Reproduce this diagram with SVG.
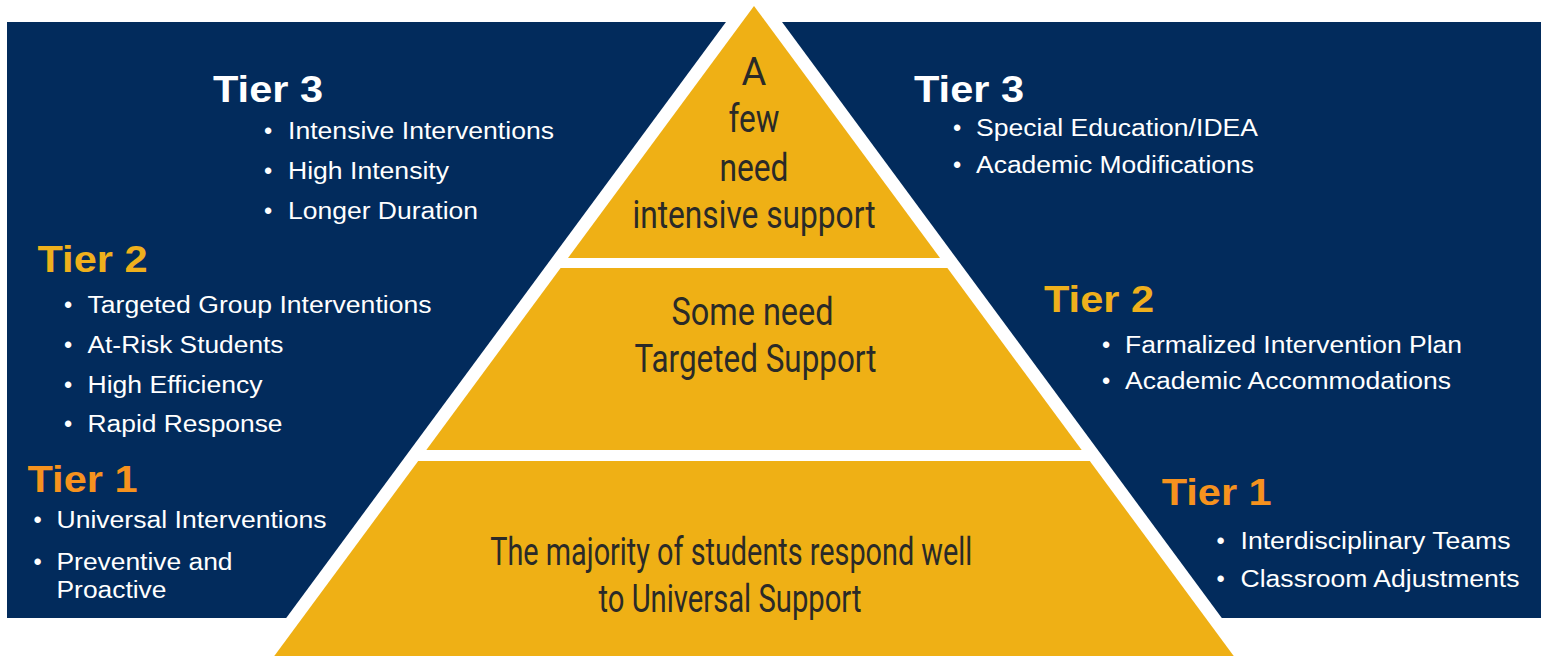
<svg xmlns="http://www.w3.org/2000/svg" width="1541" height="656" viewBox="0 0 1541 656">
  <style>
    .head { font-family: "Liberation Sans", Arial, sans-serif; font-weight: bold; font-size: 37px; }
    .t3 { fill: #ffffff; }
    .t2 { fill: #efb01c; }
    .t1 { fill: #f6921e; }
    .item { font-family: "Liberation Sans", Arial, sans-serif; font-size: 23.5px; fill: #ffffff; }
    .dot { font-family: "Liberation Sans", Arial, sans-serif; font-size: 23.5px; fill: #ffffff; text-anchor: middle; }
    .core { fill: #efb015; }
    .label { font-family: Roboto, "Liberation Sans Narrow", "Liberation Sans", sans-serif; font-weight: 400; font-size: 38px; fill: #2a2a28; text-anchor: middle; }
  </style>

  <!-- page and navy panel -->
  <rect x="0" y="0" width="1541" height="656" fill="#ffffff"/>
  <rect x="7" y="22" width="1534" height="596" fill="#022b5c"/>

  <!-- white rim around the pyramid -->
  <polygon id="pyramid-rim" points="754,-16 1282.3,700 225.7,700" fill="#ffffff"/>

  <g id="connectors"/>

  <!-- top tier of the pyramid -->
  <g id="core-tier3">
    <polygon class="core" points="754,6 940,258 568,258"/>
    <text class="label" x="754" y="85">A</text>
    <text class="label" x="754" y="131.7" textLength="51" lengthAdjust="spacingAndGlyphs">few</text>
    <text class="label" x="754" y="180.5" textLength="69" lengthAdjust="spacingAndGlyphs">need</text>
    <text class="label" x="754" y="228.3" textLength="243" lengthAdjust="spacingAndGlyphs">intensive support</text>
  </g>

  <!-- middle tier -->
  <g id="core-tier2">
    <polygon class="core" points="560.6,268 947.4,268 1081.7,450 426.3,450"/>
    <text class="label" x="752.5" y="325" textLength="162" lengthAdjust="spacingAndGlyphs">Some need</text>
    <text class="label" x="755.5" y="371.7" textLength="242" lengthAdjust="spacingAndGlyphs">Targeted Support</text>
  </g>

  <!-- base tier -->
  <g id="core-tier1">
    <polygon class="core" points="418.2,461 1089.8,461 1266.2,700 241.8,700"/>
    <text class="label" x="731.3" y="565" textLength="482" lengthAdjust="spacingAndGlyphs">The majority of students respond well</text>
    <text class="label" x="730" y="611.7" textLength="263" lengthAdjust="spacingAndGlyphs">to Universal Support</text>
  </g>

  <!-- left column -->
  <g id="left-tier3">
    <text class="head t3" x="213" y="101.7" textLength="110" lengthAdjust="spacingAndGlyphs">Tier 3</text>
    <text class="dot" x="268" y="139">•</text>
    <text class="item" x="288" y="139" textLength="266" lengthAdjust="spacingAndGlyphs">Intensive Interventions</text>
    <text class="dot" x="268" y="179">•</text>
    <text class="item" x="288" y="179" textLength="161" lengthAdjust="spacingAndGlyphs">High Intensity</text>
    <text class="dot" x="268" y="218.5">•</text>
    <text class="item" x="288" y="218.5" textLength="190" lengthAdjust="spacingAndGlyphs">Longer Duration</text>
  </g>

  <g id="left-tier2">
    <text class="head t2" x="37.5" y="271.7" textLength="110" lengthAdjust="spacingAndGlyphs">Tier 2</text>
    <text class="dot" x="68" y="313">•</text>
    <text class="item" x="87.5" y="313" textLength="344" lengthAdjust="spacingAndGlyphs">Targeted Group Interventions</text>
    <text class="dot" x="68" y="353">•</text>
    <text class="item" x="87.5" y="353" textLength="196" lengthAdjust="spacingAndGlyphs">At-Risk Students</text>
    <text class="dot" x="68" y="392.5">•</text>
    <text class="item" x="87.5" y="392.5" textLength="175" lengthAdjust="spacingAndGlyphs">High Efficiency</text>
    <text class="dot" x="68" y="432">•</text>
    <text class="item" x="87.5" y="432" textLength="195" lengthAdjust="spacingAndGlyphs">Rapid Response</text>
  </g>

  <g id="left-tier1">
    <text class="head t1" x="27.5" y="491.7" textLength="110" lengthAdjust="spacingAndGlyphs">Tier 1</text>
    <text class="dot" x="37.7" y="528.3">•</text>
    <text class="item" x="56.5" y="528.3" textLength="270" lengthAdjust="spacingAndGlyphs">Universal Interventions</text>
    <text class="dot" x="37.7" y="570">•</text>
    <text class="item" x="56.5" y="570" textLength="176" lengthAdjust="spacingAndGlyphs">Preventive and</text>
    <text class="item" x="56.5" y="598.3" textLength="110" lengthAdjust="spacingAndGlyphs">Proactive</text>
  </g>

  <!-- right column -->
  <g id="right-tier3">
    <text class="head t3" x="914" y="101.7" textLength="110" lengthAdjust="spacingAndGlyphs">Tier 3</text>
    <text class="dot" x="957" y="136">•</text>
    <text class="item" x="976" y="136" textLength="282" lengthAdjust="spacingAndGlyphs">Special Education/IDEA</text>
    <text class="dot" x="957" y="173.3">•</text>
    <text class="item" x="976" y="173.3" textLength="278" lengthAdjust="spacingAndGlyphs">Academic Modifications</text>
  </g>

  <g id="right-tier2">
    <text class="head t2" x="1044" y="311.7" textLength="110" lengthAdjust="spacingAndGlyphs">Tier 2</text>
    <text class="dot" x="1106" y="353.3">•</text>
    <text class="item" x="1125" y="353.3" textLength="337" lengthAdjust="spacingAndGlyphs">Farmalized Intervention Plan</text>
    <text class="dot" x="1106" y="389.3">•</text>
    <text class="item" x="1125" y="389.3" textLength="326" lengthAdjust="spacingAndGlyphs">Academic Accommodations</text>
  </g>

  <g id="right-tier1">
    <text class="head t1" x="1161.7" y="505" textLength="110" lengthAdjust="spacingAndGlyphs">Tier 1</text>
    <text class="dot" x="1220.7" y="549.3">•</text>
    <text class="item" x="1240.5" y="549.3" textLength="270" lengthAdjust="spacingAndGlyphs">Interdisciplinary Teams</text>
    <text class="dot" x="1220.7" y="586.7">•</text>
    <text class="item" x="1240.5" y="586.7" textLength="279" lengthAdjust="spacingAndGlyphs">Classroom Adjustments</text>
  </g>
</svg>
